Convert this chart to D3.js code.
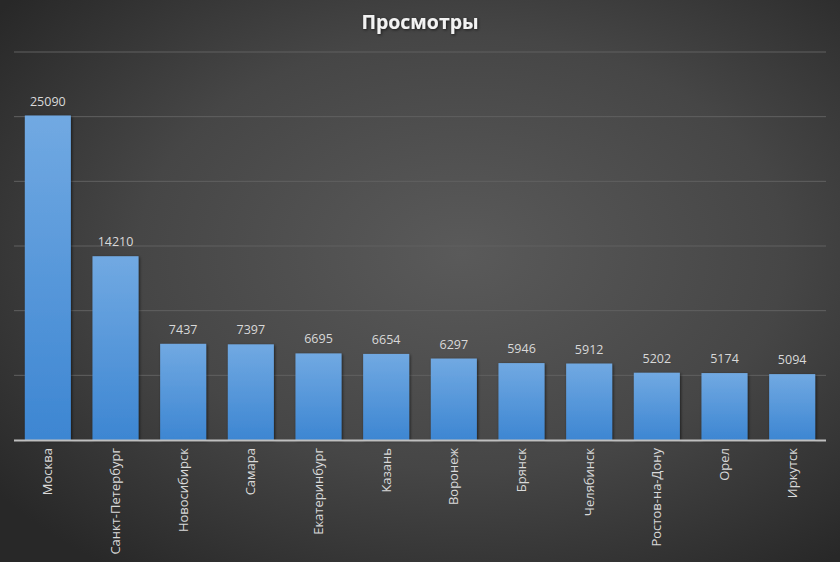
<!DOCTYPE html>
<html>
<head>
<meta charset="utf-8">
<script src="https://cdn.jsdelivr.net/npm/d3@7"></script>
<style>
  html, body { margin: 0; padding: 0; background: #ffffff; }
  svg { display: block; }
</style>
</head>
<body>
<script>

// chart data
var cities = ["Москва", "Санкт-Петербург", "Новосибирск", "Самара", "Екатеринбург", "Казань",
              "Воронеж", "Брянск", "Челябинск", "Ростов-на-Дону", "Орел", "Иркутск"];
var views = [25090, 14210, 7437, 7397, 6695, 6654, 6297, 5946, 5912, 5202, 5174, 5094];
var gridTicks = [5000, 10000, 15000, 20000, 25000, 30000];
var chartTitle = "Просмотры";

var width = 840, height = 565;

var svg = d3.select("body").append("svg")
    .attr("width", width)
    .attr("height", height);

var defs = svg.append("defs");

// dark background with a lighter centre
var bg = defs.append("radialGradient").attr("id", "bg")
    .attr("cx", "55%").attr("cy", "45%").attr("r", "70%");
bg.append("stop").attr("offset", "0%").attr("stop-color", "#5a5a5a");
bg.append("stop").attr("offset", "55%").attr("stop-color", "#464646");
bg.append("stop").attr("offset", "100%").attr("stop-color", "#282828");

var barGrad = defs.append("linearGradient").attr("id", "bar")
    .attr("x1", 0).attr("y1", 0).attr("x2", 0).attr("y2", 1);
barGrad.append("stop").attr("offset", "0%").attr("stop-color", "#71a9e2");
barGrad.append("stop").attr("offset", "100%").attr("stop-color", "#3d86d2");

var shadow = defs.append("filter").attr("id", "shadow")
    .attr("x", "-20%").attr("y", "-20%").attr("width", "140%").attr("height", "140%");
shadow.append("feDropShadow").attr("dx", 1).attr("dy", 1).attr("stdDeviation", 1.5)
    .attr("flood-color", "#000").attr("flood-opacity", 0.6);

svg.append("rect")
    .attr("width", width).attr("height", 562)
    .attr("fill", "url(#bg)");

// white strip at the bottom (spreadsheet cells)
svg.append("rect")
    .attr("y", 562).attr("width", width).attr("height", 3)
    .attr("fill", "#ffffff");

// scales
var x = d3.scaleBand()
    .domain(cities)
    .range([14, 826])
    .paddingInner(0.32)
    .paddingOuter(0.16);

var y = d3.scaleLinear()
    .domain([0, 30000])
    .range([440, 52]);

// gridlines
svg.append("g").selectAll("line").data(gridTicks).enter().append("line")
    .attr("x1", 14).attr("x2", 826)
    .attr("y1", function (d) { return y(d); })
    .attr("y2", function (d) { return y(d); })
    .attr("stroke", "#616161")
    .attr("stroke-width", 1);

// bars
svg.append("g").selectAll("rect").data(views).enter().append("rect")
    .attr("x", function (d, i) { return x(cities[i]); })
    .attr("y", function (d) { return y(d); })
    .attr("width", x.bandwidth())
    .attr("height", function (d) { return y(0) - y(d); })
    .attr("fill", "url(#bar)")
    .attr("filter", "url(#shadow)");

// value labels
svg.append("g").selectAll("text").data(views).enter().append("text")
    .text(function (d) { return d; })
    .attr("x", function (d, i) { return x(cities[i]) + x.bandwidth() / 2; })
    .attr("y", function (d) { return y(d) - 10; })
    .attr("text-anchor", "middle")
    .attr("font-family", "Open Sans, sans-serif")
    .attr("font-size", "12.5px")
    .attr("fill", "#d9d9d9");

// x axis
var xAxis = svg.append("g")
    .attr("transform", "translate(0," + y(0) + ")")
    .call(d3.axisBottom(x).tickSize(0).tickPadding(0));

xAxis.select(".domain")
    .attr("d", "M14,0.5H826")
    .attr("stroke", "#bfbfbf")
    .attr("stroke-width", 1.8);

xAxis.selectAll("text")
    .attr("transform", "translate(0,8) rotate(-90)")
    .attr("x", 0).attr("y", 0).attr("dy", "0.35em")
    .attr("text-anchor", "end")
    .attr("font-family", "Open Sans, sans-serif")
    .attr("font-size", "13px")
    .attr("fill", "#d9d9d9");

// title
svg.append("text").text(chartTitle)
    .attr("x", 420).attr("y", 29)
    .attr("text-anchor", "middle")
    .attr("font-family", "Open Sans, sans-serif")
    .attr("font-weight", "bold")
    .attr("font-size", "19.5px")
    .attr("fill", "#f2f2f2")
    .attr("filter", "url(#shadow)");

</script>
</body>
</html>
